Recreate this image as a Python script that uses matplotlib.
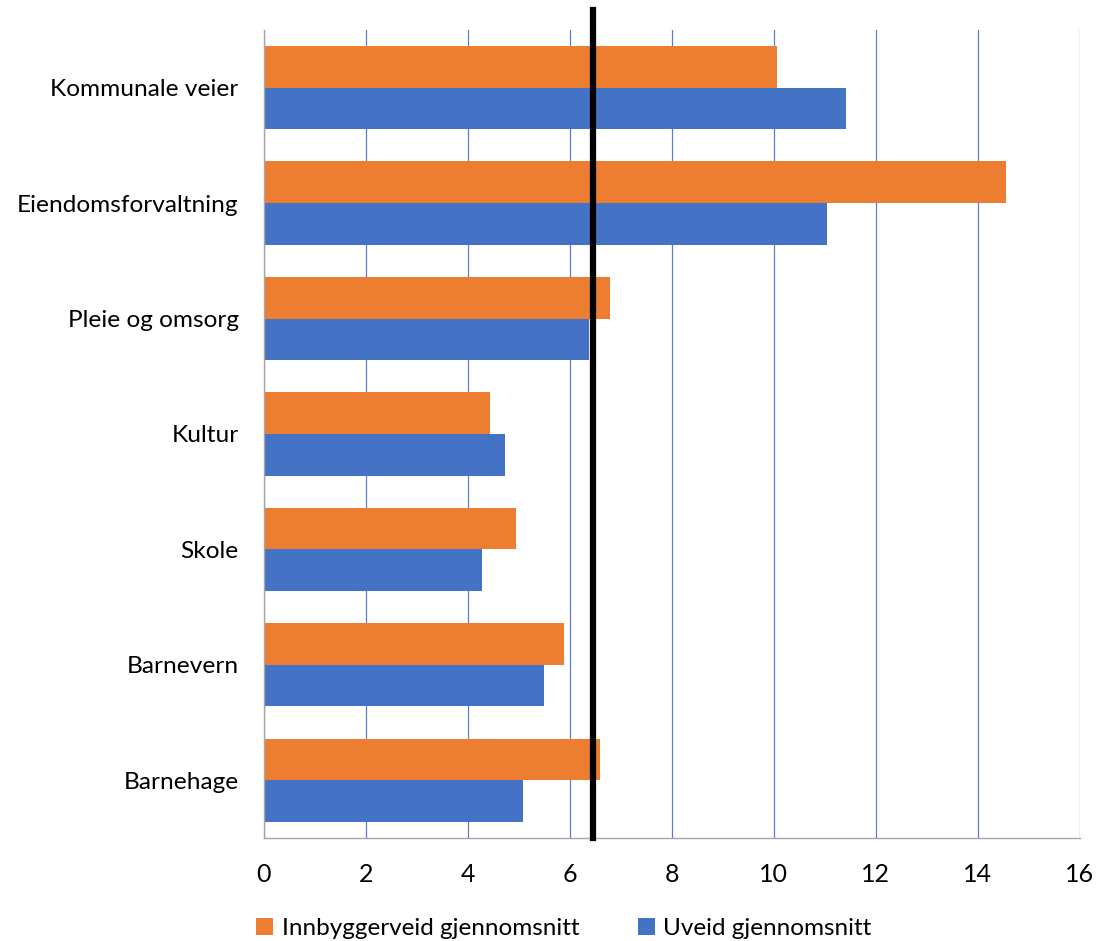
import numpy as np
import matplotlib
matplotlib.use("Agg")
from matplotlib import pyplot as plt

# data
categories = ['Barnehage', 'Barnevern', 'Skole', 'Kultur',
              'Pleie og omsorg', 'Eiendomsforvaltning', 'Kommunale veier']
innbyggerveid = [6.60, 5.88, 4.95, 4.44, 6.80, 14.55, 10.06]
uveid = [5.08, 5.50, 4.29, 4.73, 6.38, 11.04, 11.42]
snitt = 6.45
xticks = [0, 2, 4, 6, 8, 10, 12, 14, 16]

plt.rcParams['font.family'] = ['Lato', 'DejaVu Sans']

fig = plt.figure(figsize=(10.97, 9.41), dpi=100)
ax = fig.add_axes([0.2404, 0.1095, 0.7438, 0.8586])

y = np.arange(len(categories))
h = 0.361
b1 = ax.barh(y + h / 2, innbyggerveid, height=h, color='#ED7D31',
             label='Innbyggerveid gjennomsnitt', zorder=2)
b2 = ax.barh(y - h / 2, uveid, height=h, color='#4472C4',
             label='Uveid gjennomsnitt', zorder=2)

ax.axvline(snitt, ymin=0, ymax=1.025, color='black', lw=4.5,
           clip_on=False, zorder=3)

ax.set_xlim(0, 16)
ax.set_ylim(-0.5, len(categories) - 0.5)
ax.set_xticks(xticks)
ax.set_yticks(y)
ax.set_yticklabels(categories)
ax.xaxis.grid(True, color='#5B7FC8', lw=0.9, zorder=0)
ax.set_axisbelow(True)

for s in ['top', 'right']:
    ax.spines[s].set_visible(False)
for s in ['left', 'bottom']:
    ax.spines[s].set_color('#A6A6A6')
    ax.spines[s].set_linewidth(1.0)
ax.tick_params(axis='both', length=0, colors='black')
ax.tick_params(axis='y', pad=18, labelsize=17.6)
ax.tick_params(axis='x', pad=18, labelsize=18)

fig.legend(handles=[b1, b2], loc='center', bbox_to_anchor=(0.514, 0.013),
           ncol=2, frameon=False, fontsize=17.5, handlelength=0.7,
           handleheight=0.7, handletextpad=0.35, columnspacing=2.4)

fig.savefig('out.png', dpi=100)
